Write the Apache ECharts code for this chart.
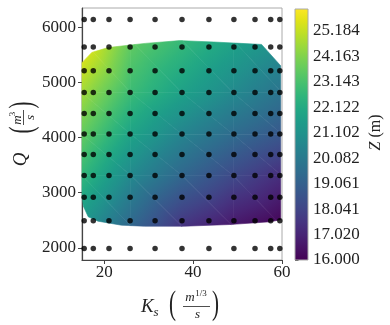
<!DOCTYPE html>
<html>
<head>
<meta charset="utf-8">
<script src="https://cdn.jsdelivr.net/npm/echarts@6.0.0/dist/echarts.min.js"></script>
<style>html,body{margin:0;padding:0;background:#fff}#chart{width:390px;height:325px}</style>
</head>
<body>
<div id="chart"></div>
<script>
// sampled points (Ks x Q)
const ksNodes = [15.49, 17.54, 21.07, 25.82, 31.44, 37.5, 43.56, 49.18, 53.93, 57.46, 59.51];
const qNodes = [1988, 2489, 2917, 3312, 3691, 4063, 4435, 4814, 5209, 5638, 6138];

// Z (m) read on a coarse Ks x Q grid, one row per zQ value
const zKs = [15, 26, 37.5, 49, 60];
const zQ = [2390, 3310, 4060, 4810, 5760];
const zRow2390 = [21.23, 19.32, 17.51, 16.60, 16.00];
const zRow3310 = [22.64, 20.73, 19.32, 18.21, 17.31];
const zRow4060 = [23.65, 21.83, 20.53, 19.52, 18.72];
const zRow4810 = [24.65, 22.84, 21.73, 20.73, 19.82];
const zRow5760 = [25.96, 23.65, 22.74, 21.83, 21.03];
const zRows = [zRow2390, zRow3310, zRow4060, zRow4810, zRow5760];

// outline of the filled area
const hullKs = [15.0, 17.2, 20.9, 29.2, 37.0, 44.6, 55.4, 59.7, 59.7, 57.3, 48.3, 38.0, 29.1, 23.9, 18.6, 16.4, 15.3, 15.0];
const hullQ = [5355, 5540, 5630, 5705, 5755, 5730, 5686, 5300, 2510, 2472, 2423, 2392, 2392, 2410, 2483, 2562, 2755, 2963];

const xTicks = [20, 40, 60];
const yTicks = [2000, 3000, 4000, 5000, 6000];
const cbTicks = [16.000, 17.020, 18.041, 19.061, 20.082, 21.102, 22.122, 23.143, 24.163, 25.184];
const zMin = 16.0, zMax = 26.06;

const viridis = ['#440154','#471365','#482475','#463480','#414487','#3b528b','#355f8d','#2f6c8e','#2a788e','#25848e',
  '#21918c','#1e9c89','#22a884','#2fb47c','#44bf70','#5ec962','#7ad151','#9bd93c','#bddf26','#dfe318','#fde725'];
const viridisStops = viridis.map((c, i) => ({offset: i / (viridis.length - 1), color: c}));

const FONT = '"Liberation Serif", "DejaVu Serif", serif';
const TXT = '#222';

// triangles of the Z grid
const tris = [];
for (let i = 0; i < zQ.length - 1; i++) {
  for (let j = 0; j < zKs.length - 1; j++) {
    const a = [zKs[j], zQ[i], zRows[i][j]];
    const b = [zKs[j + 1], zQ[i], zRows[i][j + 1]];
    const c = [zKs[j + 1], zQ[i + 1], zRows[i + 1][j + 1]];
    const d = [zKs[j], zQ[i + 1], zRows[i + 1][j]];
    tris.push([a, b, d], [b, c, d]);
  }
}
const triData = tris.map((t, k) => [(t[0][0] + t[1][0] + t[2][0]) / 3, (t[0][1] + t[1][1] + t[2][1]) / 3, k]);

function colorAt(z) {
  let t = (z - zMin) / (zMax - zMin);
  t = Math.max(0, Math.min(1, t));
  return viridis[Math.round(t * (viridis.length - 1))];
}

// convex clip (Sutherland-Hodgman)
function clipPoly(subject, clipper) {
  let area = 0;
  for (let i = 0; i < clipper.length; i++) {
    const a = clipper[i], b = clipper[(i + 1) % clipper.length];
    area += a[0] * b[1] - b[0] * a[1];
  }
  const sgn = area > 0 ? 1 : -1;
  let out = subject;
  for (let i = 0; i < clipper.length && out.length; i++) {
    const a = clipper[i], b = clipper[(i + 1) % clipper.length];
    const side = p => sgn * ((b[0] - a[0]) * (p[1] - a[1]) - (b[1] - a[1]) * (p[0] - a[0]));
    const inp = out;
    out = [];
    for (let k = 0; k < inp.length; k++) {
      const p = inp[k], q = inp[(k + 1) % inp.length];
      const sp = side(p), sq = side(q);
      if (sp >= 0) out.push(p);
      if ((sp >= 0) !== (sq >= 0)) {
        const t = sp / (sp - sq);
        out.push([p[0] + t * (q[0] - p[0]), p[1] + t * (q[1] - p[1])]);
      }
    }
  }
  return out;
}

// linear colour field over one triangle as a global gradient
function fieldFill(p, z) {
  const e2x = p[1][0] - p[0][0], e2y = p[1][1] - p[0][1];
  const e3x = p[2][0] - p[0][0], e3y = p[2][1] - p[0][1];
  const d2 = z[1] - z[0], d3 = z[2] - z[0];
  const det = e2x * e3y - e2y * e3x;
  const gx = (d2 * e3y - d3 * e2y) / det, gy = (e2x * d3 - e3x * d2) / det;
  const g2 = gx * gx + gy * gy;
  if (!isFinite(g2) || g2 < 1e-12) return colorAt(z[0]);
  const s0 = (zMin - z[0]) / g2, s1 = (zMax - z[0]) / g2;
  return new echarts.graphic.LinearGradient(
    p[0][0] + s0 * gx, p[0][1] + s0 * gy, p[0][0] + s1 * gx, p[0][1] + s1 * gy, viridisStops, true);
}

function renderField(params, api) {
  const tri = tris[api.value(2)];
  const pts = tri.map(v => api.coord([v[0], v[1]]));
  const hull = hullKs.map((k, i) => api.coord([k, hullQ[i]]));
  const poly = clipPoly(pts, hull);
  if (poly.length < 3) return null;
  const fill = fieldFill(pts, tri.map(v => v[2]));
  return {
    type: 'polygon',
    shape: {points: poly},
    style: {fill: fill, stroke: fill, lineWidth: 0.6}
  };
}

function renderBar(params, api) {
  const p0 = api.coord([0, zMax]);
  const p1 = api.coord([1, zMin]);
  return {
    type: 'rect',
    shape: {x: p0[0], y: p0[1], width: p1[0] - p0[0], height: p1[1] - p0[1]},
    style: {
      fill: new echarts.graphic.LinearGradient(0, 1, 0, 0, viridisStops),
      stroke: '#aaa', lineWidth: 1
    }
  };
}

const points = [];
ksNodes.forEach(k => qNodes.forEach(q => points.push([k, q])));

function txt(x, y, s, size, italic, extra) {
  return Object.assign({
    type: 'text', x: x, y: y,
    style: {text: s, fontSize: size, fontFamily: FONT, fontStyle: italic ? 'italic' : 'normal',
      fill: TXT, align: 'center', verticalAlign: 'middle'}
  }, extra || {});
}

const tickLabel = {color: TXT, fontFamily: FONT, fontSize: 17};

const option = {
  animation: false,
  grid: [
    {left: 82, top: 8, width: 200, height: 252, show: true, borderColor: '#aaa', borderWidth: 1},
    {left: 295, top: 9, width: 13, height: 251}
  ],
  xAxis: [
    {gridIndex: 0, type: 'value', min: 15, max: 60,
      axisLine: {show: true, onZero: false, lineStyle: {color: '#444', width: 1.2}},
      axisTick: {show: true, length: 4, customValues: xTicks, lineStyle: {color: '#444'}},
      axisLabel: Object.assign({customValues: xTicks, margin: 4, formatter: v => String(v)}, tickLabel),
      splitLine: {show: false}},
    {gridIndex: 1, type: 'value', min: 0, max: 1, show: false}
  ],
  yAxis: [
    {gridIndex: 0, type: 'value', min: 1780, max: 6346,
      axisLine: {show: true, onZero: false, lineStyle: {color: '#444', width: 1.2}},
      axisTick: {show: true, length: 4, customValues: yTicks, lineStyle: {color: '#444'}},
      axisLabel: Object.assign({customValues: yTicks, margin: 6, formatter: v => String(v)}, tickLabel),
      splitLine: {show: false}},
    {gridIndex: 1, type: 'value', min: zMin, max: zMax, position: 'right',
      axisLine: {show: false},
      axisTick: {show: true, length: 3.5, customValues: cbTicks, lineStyle: {color: '#444'}},
      axisLabel: Object.assign({customValues: cbTicks, margin: 5, formatter: v => v.toFixed(3)}, tickLabel),
      splitLine: {show: false}}
  ],
  series: [
    {type: 'custom', xAxisIndex: 0, yAxisIndex: 0, data: triData, encode: {x: 0, y: 1},
      renderItem: renderField, silent: true, z: 1},
    {type: 'custom', xAxisIndex: 1, yAxisIndex: 1, data: [[0.5, (zMin + zMax) / 2]],
      renderItem: renderBar, silent: true},
    {type: 'scatter', xAxisIndex: 0, yAxisIndex: 0, data: points, symbolSize: 5.5,
      itemStyle: {color: '#000'}, silent: true, z: 3}
  ],
  graphic: [
    // x axis title
    txt(141, 307, 'K', 19, true, {style: {text: 'K', fontSize: 19, fontFamily: FONT, fontStyle: 'italic', fill: TXT, align: 'left', verticalAlign: 'middle'}}),
    txt(156, 313, 's', 13, true),
    txt(172.5, 305, '(', 21, false, {scaleY: 1.65}),
    txt(190, 298, 'm', 13, true),
    txt(201, 294, '1/3', 9, false),
    {type: 'line', shape: {x1: 183, y1: 306.5, x2: 210, y2: 306.5}, style: {stroke: TXT, lineWidth: 0.8}},
    txt(197.5, 314.5, 's', 13, true),
    txt(215.5, 305, ')', 21, false, {scaleY: 1.65}),
    // y axis title
    {type: 'group', x: 23, y: 135, rotation: Math.PI / 2, children: [
      txt(-24.5, -2, 'Q', 19, true),
      txt(5, 0, '(', 21, false, {scaleY: 1.65}),
      txt(15, -5.5, 'm', 13, true),
      txt(21, -10, '3', 9, false),
      {type: 'line', shape: {x1: 10, y1: 0.5, x2: 25, y2: 0.5}, style: {stroke: TXT, lineWidth: 0.8}},
      txt(17.5, 7.5, 's', 13, true),
      txt(30, 0, ')', 21, false, {scaleY: 1.65})
    ]},
    // colorbar title
    {type: 'group', x: 376, y: 132, rotation: Math.PI / 2, children: [
      txt(-14, 0, 'Z', 16, true),
      txt(6, 0, '(m)', 16, false)
    ]}
  ]
};

const myChart = echarts.init(document.getElementById('chart'));
myChart.setOption(option);
</script>
</body>
</html>
